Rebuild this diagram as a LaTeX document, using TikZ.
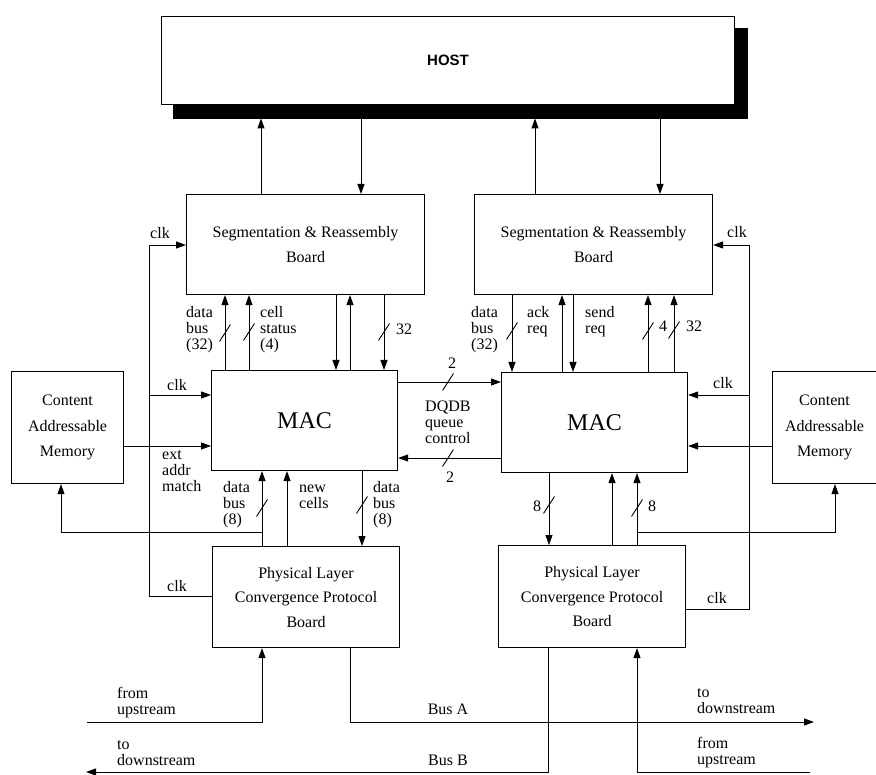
\documentclass[tikz,border=0pt]{standalone}
\usepackage{fontspec}
\setmainfont{Liberation Serif}
\newfontfamily\hostfont{Liberation Sans}
\usetikzlibrary{arrows.meta}
\begin{document}
\begin{tikzpicture}[x=1pt,y=-1pt,
  box/.style={draw,line width=1.1pt,rectangle,inner sep=0pt,anchor=north west,align=center,font=\fontsize{16}{24.5}\selectfont},
  lbl/.style={inner sep=0pt,align=left,font=\fontsize{16}{16}\selectfont},
  con/.style={line width=0.9pt},
  arr/.style={con,-{Triangle[length=10pt,width=7pt]}},
  slashmark/.pic={\draw[line width=0.9pt] (-5.5,8.5)--(5.5,-8.5);}
]
\useasboundingbox (0,0) rectangle (876,775);

% HOST
\node[draw,fill=black,inner sep=0pt,anchor=north west,minimum width=574pt,minimum height=90pt] (hostsh) at (173,28) {};
\node[box,fill=white,minimum width=573pt,minimum height=88pt,font=\hostfont\fontsize{15}{15}\selectfont\bfseries] (host) at (161,16) {HOST};

% boxes
\node[box,minimum width=238pt,minimum height=100pt] (sarL) at (186,194) {Segmentation \& Reassembly\\Board};
\node[box,minimum width=238pt,minimum height=100pt] (sarR) at (474,194) {Segmentation \& Reassembly\\Board};
\node[box,minimum width=186pt,minimum height=100pt,font=\fontsize{24}{24}\selectfont] (macL) at (211,370) {MAC};
\node[box,minimum width=186pt,minimum height=100pt,font=\fontsize{24}{24}\selectfont] (macR) at (501,372) {MAC};
\node[box,minimum width=112pt,minimum height=112pt,font=\fontsize{16}{25.5}\selectfont] (camL) at (11,371) {Content\\Addressable\\Memory};
\node[box,minimum width=104pt,minimum height=112pt,font=\fontsize{16}{25.5}\selectfont] (camR) at (772,371) {Content\\Addressable\\Memory};
\node[box,minimum width=187pt,minimum height=101pt] (plcpL) at (212,546) {Physical Layer\\Convergence Protocol\\Board};
\node[box,minimum width=187pt,minimum height=102pt] (plcpR) at (498,545) {Physical Layer\\Convergence Protocol\\Board};

% host links
\draw[arr] (261,0 |- sarL.north) -- (261,0 |- hostsh.south);
\draw[arr] (361,0 |- hostsh.south) -- (361,0 |- sarL.north);
\draw[arr] (535,0 |- sarR.north) -- (535,0 |- hostsh.south);
\draw[arr] (660,0 |- hostsh.south) -- (660,0 |- sarR.north);

% clocks
\draw[arr] (plcpL.west |- 0,596) -| (149,245) -- (sarL.west |- 0,245);
\draw[arr] (149,395) -- (macL.west |- 0,395);
\draw[arr] (plcpR.east |- 0,609) -| (749,245) -- (sarR.east |- 0,245);
\draw[arr] (749,395) -- (macR.east |- 0,395);

% SAR - MAC left
\draw[arr] (225,0 |- macL.north) -- (225,0 |- sarL.south);
\draw[arr] (249,0 |- macL.north) -- (249,0 |- sarL.south);
\draw[arr] (336,0 |- sarL.south) -- (336,0 |- macL.north);
\draw[arr] (350,0 |- macL.north) -- (350,0 |- sarL.south);
\draw[arr] (384,0 |- sarL.south) -- (384,0 |- macL.north);

% SAR - MAC right
\draw[arr] (512,0 |- sarR.south) -- (512,0 |- macR.north);
\draw[arr] (562,0 |- macR.north) -- (562,0 |- sarR.south);
\draw[arr] (573,0 |- sarR.south) -- (573,0 |- macR.north);
\draw[arr] (648,0 |- macR.north) -- (648,0 |- sarR.south);
\draw[arr] (674,0 |- macR.north) -- (674,0 |- sarR.south);

% DQDB
\draw[arr] (macL.east |- 0,382) -- (macR.west |- 0,382);
\draw[arr] (macR.west |- 0,458) -- (macL.east |- 0,458);

% CAM
\draw[arr] (camL.east |- 0,446) -- (macL.west |- 0,446);
\draw[arr] (camR.west |- 0,446) -- (macR.east |- 0,446);

% MAC - PLCP left
\draw[arr] (262,0 |- plcpL.north) -- (262,0 |- macL.south);
\draw[arr] (287,0 |- plcpL.north) -- (287,0 |- macL.south);
\draw[arr] (362,0 |- macL.south) -- (362,0 |- plcpL.north);
\draw[arr] (262,532) -| (61,0 |- camL.south);

% MAC - PLCP right
\draw[arr] (549,0 |- macR.south) -- (549,0 |- plcpR.north);
\draw[arr] (612,0 |- plcpR.north) -- (612,0 |- macR.south);
\draw[arr] (637,0 |- plcpR.north) -- (637,0 |- macR.south);
\draw[arr] (637,532) -| (835,0 |- camR.south);

% buses
\draw[arr] (87,722) -| (262,0 |- plcpL.south);
\draw[arr] (350,0 |- plcpL.south) |- (814,722);
\draw[arr] (548,0 |- plcpR.south) |- (86,772);
\draw[arr] (810,772) -| (637,0 |- plcpR.south);

% slashes
\pic at (225,333) {slashmark};
\pic at (249,332) {slashmark};
\pic at (384,332) {slashmark};
\pic at (512,331) {slashmark};
\pic at (648,331) {slashmark};
\pic at (674,330) {slashmark};
\pic at (448,382) {slashmark};
\pic at (448,458) {slashmark};
\pic at (262,508) {slashmark};
\pic at (362,505) {slashmark};
\pic at (549,505) {slashmark};
\pic at (637,508) {slashmark};

% labels left
\node[lbl] (l1) at (160,233) {clk};
\node[lbl,anchor=west] (l2) at (186,330) {data\\bus\\(32)};
\node[lbl,anchor=west] (l3) at (260,330) {cell\\status\\(4)};
\node[lbl,anchor=west] (l4) at (396,329) {32};
\node[lbl] (l5) at (177,385) {clk};
\node[lbl,anchor=west] (l6) at (162,471) {ext\\addr\\match};
\node[lbl,anchor=west] (l7) at (223,505) {data\\bus\\(8)};
\node[lbl,anchor=west] (l8) at (299,497) {new\\cells};
\node[lbl,anchor=west] (l9) at (373,505) {data\\bus\\(8)};
\node[lbl] (l10) at (177,586) {clk};
\node[lbl,anchor=west] (l11) at (117,703) {from\\upstream};
\node[lbl,anchor=west] (l12) at (117,753) {to\\downstream};
\node[lbl] (l13) at (448,709) {Bus A};
\node[lbl] (l14) at (448,760) {Bus B};

% labels middle / right
\node[lbl] (r0) at (452,363) {2};
\node[lbl,anchor=west] (r00) at (425,422) {DQDB\\queue\\control};
\node[lbl] (r000) at (450,477) {2};
\node[lbl] (r1) at (737,232) {clk};
\node[lbl,anchor=west] (r2) at (471,330) {data\\bus\\(32)};
\node[lbl,anchor=west] (r3) at (527,322) {ack\\req};
\node[lbl,anchor=west] (r4) at (585,322) {send\\req};
\node[lbl] (r5) at (663,326) {4};
\node[lbl] (r6) at (694,326) {32};
\node[lbl] (r7) at (723,383) {clk};
\node[lbl] (r8) at (537,506) {8};
\node[lbl] (r9) at (652,506) {8};
\node[lbl] (r10) at (717,598) {clk};
\node[lbl,anchor=west] (r11) at (697,701) {to\\downstream};
\node[lbl,anchor=west] (r12) at (697,753) {from\\upstream};
\end{tikzpicture}
\end{document}
